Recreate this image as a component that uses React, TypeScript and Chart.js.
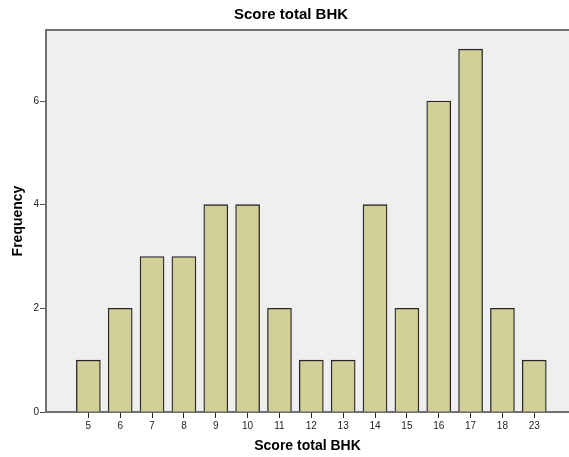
import React, { useEffect, useRef } from 'react';
import { Chart, registerables } from 'chart.js';

Chart.register(...registerables);

const categories = ['5', '6', '7', '8', '9', '10', '11', '12', '13', '14', '15', '16', '17', '18', '23'];
const frequencies = [1, 2, 3, 3, 4, 4, 2, 1, 1, 4, 2, 6, 7, 2, 1];
const yTickValues = [0, 2, 4, 6];
const chartTitle = 'Score total BHK';
const xAxisTitle = 'Score total BHK';
const yAxisTitle = 'Frequency';

const FONT = "Arial, 'Liberation Sans', sans-serif";

export default function App() {
  const ref = useRef<HTMLCanvasElement>(null);

  useEffect(() => {
    document.body.style.margin = '0';
    const decor = {
      id: 'decor',
      beforeDraw(chart: any) {
        const { ctx, chartArea: a } = chart;
        ctx.save();
        ctx.fillStyle = '#EFEFEF';
        ctx.fillRect(a.left, a.top, a.right - a.left, a.bottom - a.top);
        ctx.restore();
      },
      afterDraw(chart: any) {
        const { ctx, chartArea: a } = chart;
        ctx.save();
        ctx.strokeStyle = '#707070';
        ctx.lineWidth = 2;
        ctx.beginPath();
        ctx.moveTo(a.left, a.top);
        ctx.lineTo(a.right, a.top);
        ctx.stroke();
        ctx.fillStyle = '#000';
        ctx.font = `bold 15px ${FONT}`;
        ctx.textAlign = 'center';
        ctx.textBaseline = 'middle';
        ctx.fillText(chartTitle, 291, 15);
        ctx.restore();
      },
    };

    const chart = new Chart(ref.current as HTMLCanvasElement, {
      type: 'bar',
      data: {
        datasets: [
          {
            data: frequencies.map((v, i) => ({ x: i, y: v })),
            backgroundColor: '#D3CF98',
            borderColor: '#262626',
            borderWidth: 1.3,
            barThickness: 24,
          } as any,
        ],
      },
      options: {
        animation: false,
        responsive: false,
        layout: { padding: { top: 30, left: 0, right: 0, bottom: 0 } },
        plugins: {
          legend: { display: false },
          tooltip: { enabled: false },
          title: { display: false },
        },
        scales: {
          x: {
            type: 'linear',
            offset: false,
            min: -1.33,
            max: 15.09,
            afterBuildTicks: (s: any) => {
              s.ticks = categories.map((_, i) => ({ value: i }));
            },
            afterFit: (s: any) => {
              s.height = 45;
            },
            ticks: {
              autoSkip: false,
              maxRotation: 0,
              padding: 2,
              color: '#222',
              font: { family: FONT, size: 10 },
              callback: (v: any) => categories[v as number],
            },
            grid: { offset: false, drawOnChartArea: false, drawTicks: true, tickLength: 6, color: '#222' },
            border: { display: true, color: '#707070', width: 2 },
            title: {
              display: true,
              text: xAxisTitle,
              color: '#000',
              font: { family: FONT, size: 14, weight: 'bold' },
              padding: { top: 0, bottom: 2 },
            },
          },
          y: {
            type: 'linear',
            min: 0,
            max: 7.37,
            afterBuildTicks: (s: any) => {
              s.ticks = yTickValues.map((v) => ({ value: v }));
            },
            afterFit: (s: any) => {
              s.width = 46;
            },
            ticks: {
              padding: 1,
              color: '#222',
              font: { family: FONT, size: 10 },
              callback: (v: any) => String(v),
            },
            grid: { drawOnChartArea: false, drawTicks: true, tickLength: 6, color: '#555' },
            border: { display: true, color: '#707070', width: 2 },
            title: {
              display: true,
              text: yAxisTitle,
              color: '#000',
              font: { family: FONT, size: 14, weight: 'bold' },
              padding: { top: 10, bottom: 0 },
            },
          },
        },
      } as any,
      plugins: [decor],
    });

    return () => chart.destroy();
  }, []);

  return <canvas ref={ref} width={569} height={457} style={{ display: 'block' }} />;
}
